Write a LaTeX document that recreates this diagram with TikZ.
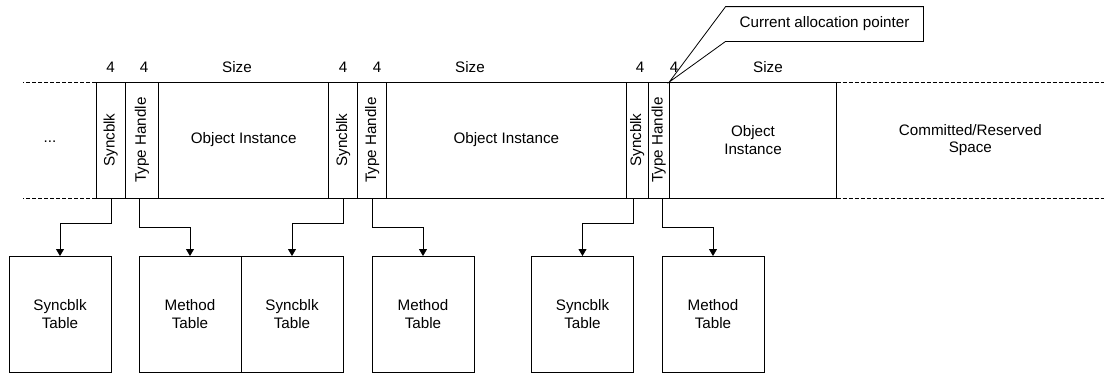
\documentclass[tikz,border=0pt]{standalone}
\usepackage{fontspec}
\setmainfont{Liberation Sans}
\usetikzlibrary{arrows.meta,positioning,calc}
\tikzset{cell/.style={draw,minimum height=116pt,inner sep=0pt,outer sep=0pt,align=center},
  tbl/.style={draw,minimum width=102pt,minimum height=116pt,inner sep=0pt,outer sep=0pt,align=center},
  arr/.style={-{Triangle[length=7pt,width=8pt]}},
  gap/.style={dash pattern=on 4pt off 2pt},
  lbl/.style={inner sep=0pt}}

\begin{document}
\begin{tikzpicture}[x=1pt,y=-1pt,line width=0.8pt,font=\fontsize{15.2}{17.8}\selectfont]
\useasboundingbox (0,0) rectangle (1104,373);
% heap segment
\node[cell,minimum width=29.3pt] (sb1) at (110.65,140) {\rotatebox{90}{Syncblk}};
\node[cell,minimum width=33.4pt,right=0pt of sb1] (th1) {\rotatebox{90}{Type Handle}};
\node[cell,minimum width=170pt,right=0pt of th1] (obj1) {Object Instance};
\node[cell,minimum width=28.8pt,right=0pt of obj1] (sb2) {\rotatebox{90}{Syncblk}};
\node[cell,minimum width=29.2pt,right=0pt of sb2] (th2) {\rotatebox{90}{Type Handle}};
\node[cell,minimum width=239.3pt,right=0pt of th2] (obj2) {Object Instance};
\node[cell,minimum width=22.3pt,right=0pt of obj2] (sb3) {\rotatebox{90}{Syncblk}};
\node[cell,minimum width=21pt,right=0pt of sb3] (th3) {\rotatebox{90}{Type Handle}};
\node[cell,minimum width=167.4pt,right=0pt of th3] (obj3) {Object\\Instance};
\node[cell,draw=none,minimum width=267.3pt,right=0pt of obj3] (free) {Committed/Reserved\\Space};
\node[lbl] (dots) at (50,142) {...};
\draw[gap] (sb1.north west) -- ++(-73,0);
\draw[gap] (sb1.south west) -- ++(-73,0);
\draw[gap] (free.north west) -- (free.north east);
\draw[gap] (free.south west) -- (free.south east);
% sizes
\node[lbl] (w1) at (110.5,67) {4};
\node[lbl] (w2) at (144,67) {4};
\node[lbl] (s1) at (237,67) {Size};
\node[lbl] (w3) at (343,67) {4};
\node[lbl] (w4) at (377,67) {4};
\node[lbl] (s2) at (470,67) {Size};
\node[lbl] (w5) at (640,67) {4};
\node[lbl] (w6) at (674,67) {4};
\node[lbl] (s3) at (768,67) {Size};
% pointer callout
\node[minimum width=197pt,minimum height=34pt,inner sep=0pt] (ptr) at (824.5,24) {Current allocation pointer};
\draw (ptr.north west) -- (ptr.north east) -- (ptr.south east) -- (ptr.south west) -- (obj3.north west) -- cycle;
% tables
\node[tbl] (st1) at (60,314) {Syncblk\\Table};
\node[tbl] (mt1) at (190,314) {Method\\Table};
\node[tbl,right=0pt of mt1] (st2) {Syncblk\\Table};
\node[tbl] (mt2) at (423,314) {Method\\Table};
\node[tbl] (st3) at (582.5,314) {Syncblk\\Table};
\node[tbl] (mt3) at (713,314) {Method\\Table};
\draw[arr] (st1.north east |- sb1.south) -- ++(0,25) -| (st1.north);
\draw[arr] (mt1.north west |- th1.south) -- ++(0,29) -| (mt1.north);
\draw[arr] (st2.north east |- sb2.south) -- ++(0,25) -| (st2.north);
\draw[arr] (mt2.north west |- th2.south) -- ++(0,29) -| (mt2.north);
\draw[arr] (st3.north east |- sb3.south) -- ++(0,25) -| (st3.north);
\draw[arr] (mt3.north west |- th3.south) -- ++(0,29) -| (mt3.north);
\end{tikzpicture}
\end{document}
